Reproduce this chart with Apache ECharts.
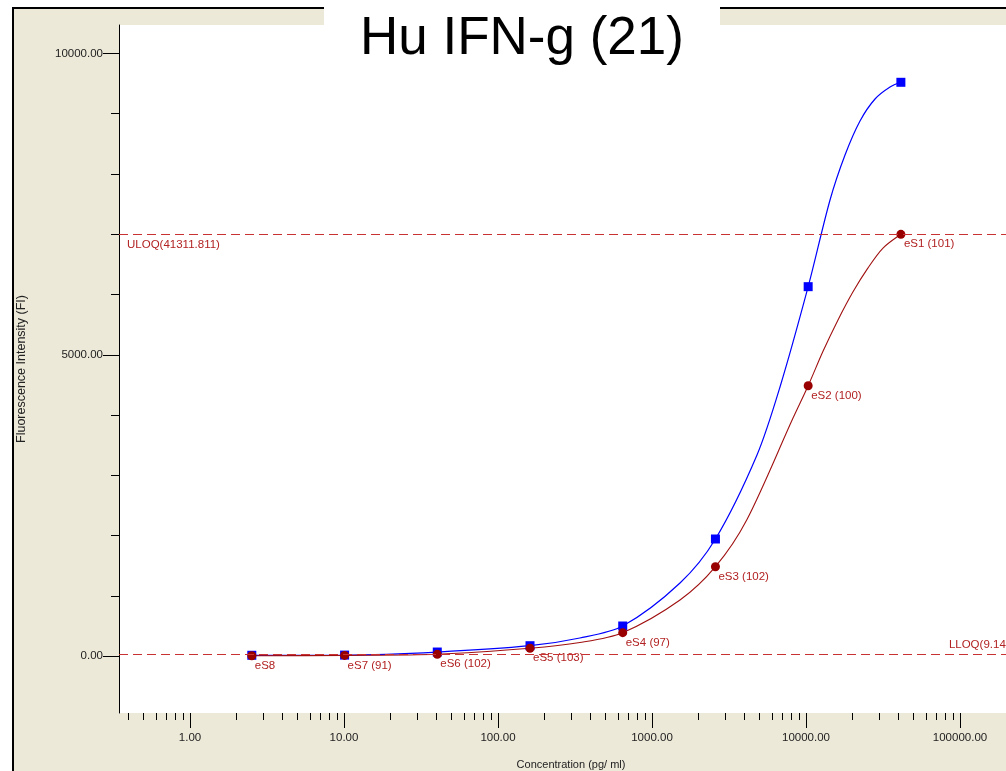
<!DOCTYPE html>
<html>
<head>
<meta charset="utf-8">
<script src="https://cdn.jsdelivr.net/npm/echarts@6/dist/echarts.min.js"></script>
<style>html,body{margin:0;padding:0;background:#fff;}#c{width:1006px;height:771px;}</style>
</head>
<body>
<div id="c"></div>
<script>
// Standards (concentration pg/ml), eS8 .. eS1
const concentrations = [2.52, 10.09, 40.34, 161.37, 645.5, 2581.99, 10327.95, 41311.811];
const pointLabels = ['eS8', 'eS7 (91)', 'eS6 (102)', 'eS5 (103)', 'eS4 (97)', 'eS3 (102)', 'eS2 (100)', 'eS1 (101)'];
const blueFI = [12, 15, 66, 171, 498, 1942, 6130, 9522];
const redFI = [5, 10, 28, 128, 387, 1482, 4486, 6999];

// fitted curves
const blueCurveConc = [2.52, 10.09, 40.34, 161.37, 340, 645.5, 1520, 2581.99, 4806, 6779, 10327.95, 14320, 17920, 22420, 28060, 35130, 41311.811];
const blueCurveFI = [12, 15, 66, 171, 299, 498, 1212, 1942, 3336, 4465, 6130, 7568, 8315, 8880, 9245, 9444, 9522];
const redCurveConc = [2.52, 10.09, 40.34, 161.37, 340, 645.5, 1520, 2581.99, 4121, 8236, 10327.95, 12894, 16136, 20200, 25270, 31623, 41311.811];
const redCurveFI = [5, 10, 28, 128, 224, 387, 929, 1482, 2257, 3950, 4486, 5057, 5578, 6045, 6442, 6770, 6999];

// limits
const uloqFI = 6996, uloqText = 'ULOQ(41311.811)';
const lloqFI = 25, lloqText = 'LLOQ(9.142)';

// ticks
const xMajorTicks = [1, 10, 100, 1000, 10000, 100000];
const xMinorTicks = [0.4, 0.5, 0.6, 0.7, 0.8, 0.9,
  2, 3, 4, 5, 6, 7, 8, 9, 20, 30, 40, 50, 60, 70, 80, 90,
  200, 300, 400, 500, 600, 700, 800, 900, 2000, 3000, 4000, 5000, 6000, 7000, 8000, 9000,
  20000, 30000, 40000, 50000, 60000, 70000, 80000, 90000];
const yMajorTicks = [0, 5000, 10000];
const yMinorTicks = [1000, 2000, 3000, 4000, 6000, 7000, 8000, 9000];

const FONT = '"Liberation Sans", Arial, sans-serif';
const X_MIN = 0.346, X_MAX = 198900, Y_MIN = -946, Y_MAX = 10473;
const gridBox = { left: 119, top: 25, right: 0, height: 688, outerBoundsMode: 'none', containLabel: false };

const zip = (a, b) => a.map((v, i) => [v, b[i]]);

const chart = echarts.init(document.getElementById('c'), null, { renderer: 'canvas' });
chart.setOption({
  backgroundColor: '#ECE9D8',
  animation: false,
  graphic: [
    { type: 'rect', shape: { x: 0, y: 0, width: 12, height: 771 }, style: { fill: '#fff' }, silent: true },
    { type: 'rect', shape: { x: 0, y: 0, width: 1006, height: 7 }, style: { fill: '#fff' }, silent: true },
    { type: 'rect', shape: { x: 12, y: 7, width: 2, height: 764 }, style: { fill: '#000' }, silent: true },
    { type: 'rect', shape: { x: 12, y: 7, width: 1000, height: 2 }, style: { fill: '#000' }, silent: true },
    { type: 'rect', shape: { x: 324, y: 0, width: 396, height: 25 }, style: { fill: '#fff' }, silent: true, z: 5 },
    { type: 'text', x: 522, y: 39, z: 10, silent: true,
      style: { text: 'Hu IFN-g (21)', fill: '#000', font: '53px ' + FONT, align: 'center', verticalAlign: 'middle' } }
  ],
  grid: [
    Object.assign({ show: true, backgroundColor: '#fff', borderWidth: 0 }, gridBox),
    Object.assign({ show: false }, gridBox)
  ],
  xAxis: [
    { gridIndex: 0, type: 'log', min: X_MIN, max: X_MAX,
      axisLine: { show: false, onZero: false },
      axisTick: { show: true, length: 15, customValues: xMajorTicks, lineStyle: { color: '#000', width: 1 } },
      axisLabel: { show: true, customValues: xMajorTicks, margin: 19, color: '#222', fontFamily: FONT, fontSize: 11.5,
        formatter: v => Number(v).toFixed(2) },
      splitLine: { show: false },
      name: 'Concentration (pg/ ml)', nameLocation: 'middle', nameGap: 46,
      nameTextStyle: { color: '#222', fontFamily: FONT, fontSize: 11, padding: [0, 0, 0, 17] } },
    { gridIndex: 1, type: 'log', min: X_MIN, max: X_MAX,
      axisLine: { show: false, onZero: false },
      axisTick: { show: true, length: 7, customValues: xMinorTicks, lineStyle: { color: '#000', width: 1 } },
      axisLabel: { show: false }, splitLine: { show: false } }
  ],
  yAxis: [
    { gridIndex: 0, type: 'value', min: Y_MIN, max: Y_MAX,
      axisLine: { show: true, onZero: false, lineStyle: { color: '#000', width: 1 } },
      axisTick: { show: true, length: 16, customValues: yMajorTicks, lineStyle: { color: '#000', width: 1 } },
      axisLabel: { show: true, customValues: yMajorTicks, margin: 16, color: '#222', fontFamily: FONT, fontSize: 11.5,
        formatter: v => Number(v).toFixed(2) },
      splitLine: { show: false },
      name: 'Fluorescence Intensity (FI)', nameLocation: 'middle', nameGap: 91,
      nameTextStyle: { color: '#222', fontFamily: FONT, fontSize: 12.5 } },
    { gridIndex: 1, type: 'value', min: Y_MIN, max: Y_MAX,
      axisLine: { show: false, onZero: false },
      axisTick: { show: true, length: 8, customValues: yMinorTicks, lineStyle: { color: '#000', width: 1 } },
      axisLabel: { show: false }, splitLine: { show: false } }
  ],
  series: [
    { type: 'line', name: 'blue fit', xAxisIndex: 0, yAxisIndex: 0, data: zip(blueCurveConc, blueCurveFI),
      smooth: 0.3, showSymbol: false, symbol: 'none', silent: true, z: 2,
      lineStyle: { color: '#0000FF', width: 1.2 } },
    { type: 'line', name: 'red fit', xAxisIndex: 0, yAxisIndex: 0, data: zip(redCurveConc, redCurveFI),
      smooth: 0.3, showSymbol: false, symbol: 'none', silent: true, z: 2,
      lineStyle: { color: '#A01010', width: 1.1 },
      markLine: { silent: true, symbol: 'none', animation: false,
        lineStyle: { color: '#C83232', type: [9, 5], width: 1 },
        data: [
          { yAxis: uloqFI, label: { show: true, formatter: uloqText, position: 'insideStartBottom', distance: [8, 4],
              color: '#B22222', fontFamily: FONT, fontSize: 11.5 } },
          { yAxis: lloqFI, label: { show: true, formatter: lloqText, position: 'insideEndTop', distance: [-10, 4],
              color: '#B22222', fontFamily: FONT, fontSize: 11.5 } }
        ] } },
    { type: 'scatter', name: 'blue points', xAxisIndex: 0, yAxisIndex: 0, data: zip(concentrations, blueFI),
      symbol: 'rect', symbolSize: 9, z: 3, itemStyle: { color: '#0000FF', opacity: 1 } },
    { type: 'scatter', name: 'red points', xAxisIndex: 0, yAxisIndex: 0, data: zip(concentrations, redFI),
      symbol: 'circle', symbolSize: 9, z: 4, itemStyle: { color: '#990000', opacity: 1 },
      label: { show: true, position: [7.5, 14.5], align: 'left', verticalAlign: 'middle',
        formatter: p => pointLabels[p.dataIndex], color: '#B22222', fontFamily: FONT, fontSize: 11.5 } }
  ]
});
</script>
</body>
</html>
